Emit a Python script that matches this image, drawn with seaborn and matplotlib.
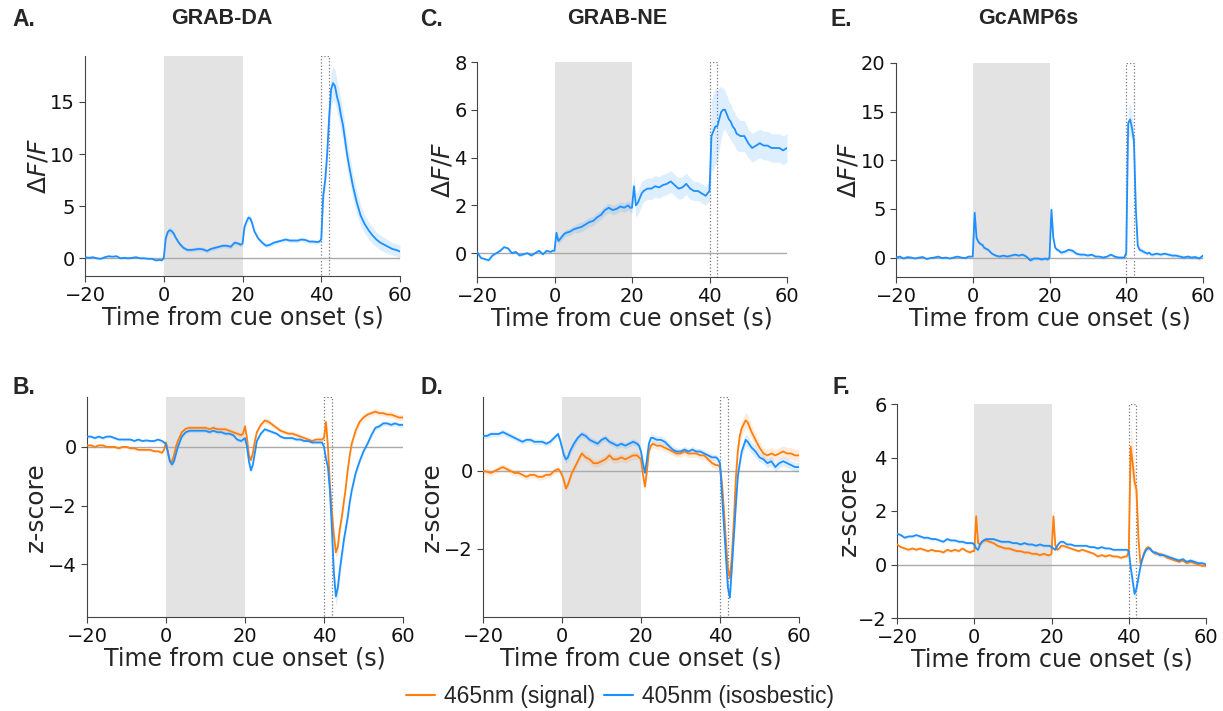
import numpy as np
import matplotlib.pyplot as plt
import seaborn as sns
from matplotlib.lines import Line2D

# time axis (s from cue onset), finer around the events
time_s = [-20, -19, -18, -17, -16, -15, -14, -13, -12, -11,
          -10, -9, -8, -7, -6, -5, -4, -3, -2, -1,
          -0.5, 0, 0.5, 1, 1.5, 2, 2.5, 3,
          4, 5, 6, 7, 8, 9, 10, 11, 12, 13,
          14, 15, 16, 17, 18, 19, 19.5, 20, 20.5, 21,
          21.5, 22, 22.5, 23, 24, 25, 26, 27, 28, 29,
          30, 31, 32, 33, 34, 35, 36, 37, 38, 39,
          39.5, 40, 40.5, 41, 41.5, 42, 42.5, 43, 43.5, 44,
          44.5, 45, 45.5, 46, 46.5, 47, 48, 49, 50,
          51, 52, 53, 54, 55, 56, 57, 58, 59, 60]

# ---- dF/F (405nm isosbestic-corrected), top row ----
da_dff = [0.1, 0.05, 0.1, 0.0, -0.05, 0.1, 0.2, 0.15, 0.2, 0.0,
          0.05, 0.0, 0.05, 0.1, 0.0, 0.0, -0.05, -0.05, -0.2, -0.15,
          -0.2, 0.0, 1.9, 2.5, 2.7, 2.6, 2.4, 2.0,
          1.4, 1.0, 0.8, 0.8, 0.85, 0.9, 0.85, 0.7, 0.9, 1.0,
          1.1, 1.2, 1.2, 1.1, 1.5, 1.4, 1.3, 1.4, 3.0, 3.5,
          3.9, 3.8, 3.3, 2.6, 1.9, 1.5, 1.2, 1.3, 1.5, 1.6,
          1.7, 1.8, 1.7, 1.7, 1.7, 1.8, 1.75, 1.6, 1.6, 1.55,
          1.6, 1.8, 6.0, 7.5, 10.0, 13.5, 16.2, 16.8, 16.5, 15.5,
          14.8, 13.7, 12.8, 11.5, 10.1, 9.0, 7.0, 5.4, 4.1,
          3.3, 2.7, 2.2, 1.8, 1.5, 1.3, 1.1, 0.9, 0.8, 0.65]
da_dff_sem = [0.1] * 20 + [0.1, 0.1, 0.2, 0.3, 0.3, 0.3, 0.25, 0.2] + [0.2] * 10 + \
    [0.2, 0.2, 0.2, 0.2, 0.2, 0.2, 0.2, 0.2, 0.3, 0.35] + \
    [0.35, 0.3, 0.3, 0.25, 0.2, 0.2, 0.2, 0.2, 0.2, 0.2] + [0.2] * 10 + \
    [0.2, 0.3, 0.8, 1.0, 1.2, 1.4, 1.6, 1.6, 1.6, 1.5] + \
    [1.5, 1.5, 1.4, 1.4, 1.3, 1.3, 1.2, 1.1, 1.0] + \
    [0.9, 0.8, 0.8, 0.7, 0.7, 0.7, 0.65, 0.6, 0.6, 0.6]

ne_dff = [0.05, -0.2, -0.25, -0.3, -0.1, 0.0, 0.1, 0.25, 0.2, 0.0,
          0.05, -0.1, -0.05, 0.0, -0.1, 0.0, 0.1, -0.05, 0.1, 0.05,
          0.1, 0.1, 0.85, 0.5, 0.6, 0.7, 0.8, 0.85,
          0.9, 1.0, 1.05, 1.1, 1.2, 1.3, 1.35, 1.5, 1.6, 1.8,
          1.9, 1.8, 1.85, 1.95, 1.9, 2.0, 1.9, 1.9, 2.8, 2.0,
          2.1, 2.3, 2.5, 2.6, 2.7, 2.7, 2.8, 2.75, 2.85, 2.9,
          3.0, 2.85, 2.7, 2.75, 2.9, 2.7, 2.6, 2.6, 2.5, 2.4,
          2.5, 2.6, 4.9, 5.1, 5.3, 5.3, 5.6, 5.9, 6.0, 6.0,
          5.8, 5.6, 5.5, 5.3, 5.2, 5.0, 4.9, 4.9, 4.6,
          4.4, 4.5, 4.6, 4.5, 4.5, 4.4, 4.4, 4.4, 4.3, 4.4]
ne_dff_sem = [0.05] * 20 + [0.05, 0.1, 0.15, 0.15, 0.15, 0.15, 0.15, 0.15] + \
    [0.15, 0.15, 0.2, 0.2, 0.2, 0.2, 0.2, 0.2, 0.2, 0.2] + \
    [0.2, 0.2, 0.2, 0.2, 0.2, 0.2, 0.2, 0.25, 0.4, 0.5] + \
    [0.5, 0.5, 0.5, 0.45, 0.45, 0.45, 0.45, 0.45, 0.45, 0.45] + \
    [0.45, 0.45, 0.45, 0.45, 0.45, 0.45, 0.4, 0.4, 0.4, 0.4] + \
    [0.4, 0.4, 1.5, 1.6, 1.6, 1.5, 1.3, 1.1, 0.9, 0.8] + \
    [0.8, 0.75, 0.75, 0.7, 0.7, 0.7, 0.65, 0.65, 0.6] + [0.6] * 10

gc_dff = [0.0, 0.1, -0.1, 0.05, 0.0, -0.1, 0.0, 0.05, -0.15, -0.05,
          0.0, 0.1, -0.05, 0.0, -0.1, 0.0, 0.1, 0.0, -0.05, 0.1,
          0.1, 0.1, 4.6, 2.0, 1.6, 1.4, 1.3, 1.0,
          0.8, 0.4, 0.2, 0.1, 0.2, 0.1, 0.2, 0.3, 0.2, 0.3,
          0.1, -0.3, -0.1, -0.1, -0.2, -0.1, -0.2, 0.0, 4.9, 2.0,
          1.0, 0.8, 0.7, 0.5, 0.6, 0.8, 0.7, 0.4, 0.3, 0.3,
          0.2, 0.3, 0.1, 0.1, 0.0, 0.1, 0.3, 0.1, 0.0, 0.0,
          0.0, 0.5, 13.8, 14.2, 13.3, 12.0, 5.0, 1.2, 0.8, 0.7,
          0.6, 0.5, 0.4, 0.5, 0.3, 0.3, 0.4, 0.3, 0.4,
          0.3, 0.2, 0.2, 0.1, 0.0, 0.1, 0.0, 0.05, -0.1, 0.2]
gc_dff_sem = [0.1] * 20 + [0.1, 0.1, 0.6, 0.3, 0.2, 0.2, 0.2, 0.2] + [0.15] * 10 + \
    [0.15, 0.15, 0.15, 0.15, 0.15, 0.15, 0.15, 0.15, 1.0, 0.3] + [0.2] * 10 + [0.15] * 10 + \
    [0.15, 0.3, 1.5, 1.6, 1.4, 1.2, 0.6, 0.3, 0.3, 0.25] + \
    [0.25, 0.2, 0.2, 0.2, 0.2, 0.2, 0.2, 0.2, 0.2] + [0.2] * 10

# ---- z-scores, bottom row: 465nm (signal) and 405nm (isosbestic) ----
da_z_465 = [0.05, 0.05, 0.0, 0.05, 0.05, 0.0, 0.0, 0.0, -0.05, 0.0,
            0.0, -0.05, -0.05, -0.1, -0.1, -0.1, -0.1, -0.15, -0.15, -0.2,
            -0.1, 0.15, -0.2, -0.5, -0.5, -0.3, 0.0, 0.2,
            0.5, 0.62, 0.65, 0.65, 0.65, 0.65, 0.65, 0.6, 0.65, 0.6,
            0.6, 0.6, 0.55, 0.5, 0.45, 0.4, 0.45, 0.7, 0.3, -0.3,
            -0.45, -0.2, 0.2, 0.5, 0.75, 0.9, 0.85, 0.75, 0.65, 0.55,
            0.5, 0.45, 0.45, 0.4, 0.35, 0.3, 0.25, 0.2, 0.25, 0.25,
            0.25, 0.3, 0.85, 0.0, -1.3, -2.2, -3.0, -3.6, -3.4, -2.8,
            -2.4, -1.9, -1.4, -0.8, -0.3, 0.1, 0.55, 0.85, 1.0,
            1.1, 1.15, 1.2, 1.15, 1.15, 1.1, 1.1, 1.05, 1.0, 1.0]
da_z_465_sem = [0.05] * 20 + [0.05, 0.05, 0.08, 0.1, 0.1, 0.08, 0.08, 0.08] + [0.08] * 10 + \
    [0.08] * 8 + [0.1, 0.1] + [0.1, 0.1, 0.08, 0.08, 0.08, 0.1, 0.1, 0.08, 0.08, 0.08] + [0.08] * 10 + \
    [0.08, 0.08, 0.15, 0.2, 0.2, 0.2, 0.2, 0.2, 0.2, 0.2] + \
    [0.2, 0.2, 0.15, 0.15, 0.15, 0.15, 0.15, 0.12, 0.12] + [0.1] * 10

da_z_405 = [0.35, 0.35, 0.3, 0.35, 0.3, 0.35, 0.35, 0.3, 0.25, 0.25,
            0.25, 0.25, 0.2, 0.25, 0.2, 0.22, 0.2, 0.2, 0.25, 0.2,
            0.15, 0.1, -0.2, -0.5, -0.6, -0.5, -0.25, 0.0,
            0.35, 0.5, 0.55, 0.55, 0.55, 0.55, 0.55, 0.5, 0.55, 0.5,
            0.5, 0.45, 0.45, 0.4, 0.25, 0.2, 0.25, 0.3, 0.0, -0.5,
            -0.8, -0.6, -0.2, 0.2, 0.45, 0.6, 0.55, 0.5, 0.45, 0.35,
            0.3, 0.3, 0.3, 0.25, 0.25, 0.2, 0.2, 0.15, 0.15, 0.15,
            0.15, 0.0, -0.4, -0.7, -1.5, -2.8, -4.3, -5.1, -4.8, -4.2,
            -3.7, -3.2, -2.8, -2.4, -1.9, -1.5, -0.9, -0.5, -0.15,
            0.1, 0.4, 0.65, 0.7, 0.8, 0.8, 0.75, 0.8, 0.75, 0.75]
da_z_405_sem = [0.05] * 20 + [0.05, 0.05, 0.08, 0.1, 0.1, 0.08, 0.08, 0.08] + [0.06] * 10 + \
    [0.06] * 8 + [0.1, 0.1] + [0.1, 0.1, 0.08] + [0.06] * 7 + [0.06] * 10 + \
    [0.06, 0.06, 0.1, 0.15, 0.2, 0.25, 0.3, 0.3, 0.3, 0.3] + \
    [0.25, 0.25, 0.2, 0.2, 0.2, 0.15, 0.15, 0.1, 0.1] + [0.08] * 10

ne_z_465 = [0.0, -0.02, -0.05, 0.0, 0.05, 0.1, 0.05, 0.0, -0.05, -0.05,
            -0.1, -0.15, -0.1, -0.1, -0.15, -0.15, -0.1, -0.1, 0.0, 0.05,
            0.0, -0.1, -0.25, -0.45, -0.35, -0.2, -0.05, 0.05,
            0.25, 0.45, 0.35, 0.3, 0.2, 0.2, 0.25, 0.3, 0.4, 0.3,
            0.3, 0.35, 0.3, 0.35, 0.4, 0.4, 0.35, 0.3, -0.1, -0.4,
            0.0, 0.5, 0.65, 0.7, 0.65, 0.65, 0.6, 0.55, 0.5, 0.45,
            0.45, 0.5, 0.45, 0.45, 0.45, 0.4, 0.4, 0.3, 0.2, 0.15,
            0.15, 0.1, -0.3, -1.0, -1.8, -2.5, -2.75, -2.2, -1.3, -0.2,
            0.5, 0.9, 1.1, 1.2, 1.3, 1.25, 1.0, 0.8, 0.6,
            0.45, 0.4, 0.45, 0.4, 0.45, 0.5, 0.45, 0.45, 0.4, 0.4]
ne_z_465_sem = [0.08] * 20 + [0.08, 0.08, 0.1, 0.1, 0.1, 0.1, 0.1, 0.1] + [0.1] * 10 + \
    [0.1] * 8 + [0.12, 0.15] + [0.12] + [0.1] * 9 + [0.1] * 10 + \
    [0.1, 0.1, 0.1, 0.12, 0.15, 0.15, 0.15, 0.15, 0.15, 0.15] + \
    [0.15, 0.18, 0.2, 0.2, 0.2, 0.2, 0.18, 0.18, 0.15] + [0.15] * 10

ne_z_405 = [0.9, 0.9, 0.95, 0.95, 0.95, 1.0, 0.95, 0.9, 0.85, 0.8,
            0.75, 0.8, 0.8, 0.75, 0.75, 0.75, 0.7, 0.75, 0.85, 0.95,
            0.8, 0.6, 0.4, 0.3, 0.35, 0.5, 0.6, 0.7,
            0.85, 0.95, 0.9, 0.8, 0.75, 0.7, 0.8, 0.85, 0.75, 0.7,
            0.65, 0.7, 0.65, 0.7, 0.75, 0.7, 0.65, 0.5, 0.2, -0.05,
            0.3, 0.7, 0.85, 0.85, 0.8, 0.8, 0.75, 0.65, 0.55, 0.5,
            0.5, 0.55, 0.5, 0.55, 0.5, 0.5, 0.45, 0.4, 0.35, 0.35,
            0.3, 0.2, -0.6, -1.4, -2.2, -3.0, -3.25, -2.5, -1.7, -0.9,
            -0.15, 0.2, 0.5, 0.65, 0.8, 0.75, 0.6, 0.5, 0.35,
            0.3, 0.2, 0.25, 0.1, 0.2, 0.25, 0.2, 0.15, 0.1, 0.1]
ne_z_405_sem = [0.07] * 20 + [0.07, 0.08, 0.1, 0.1, 0.1, 0.1, 0.1, 0.1] + [0.08] * 10 + \
    [0.08] * 8 + [0.1, 0.12] + [0.1] * 10 + [0.08] * 10 + \
    [0.08, 0.08, 0.1, 0.12, 0.15, 0.15, 0.15, 0.15, 0.15, 0.15] + \
    [0.15, 0.15, 0.15, 0.15, 0.15, 0.15, 0.15, 0.15, 0.12] + [0.12] * 10

gc_z_465 = [0.75, 0.65, 0.6, 0.55, 0.6, 0.55, 0.6, 0.55, 0.5, 0.55,
            0.5, 0.5, 0.45, 0.55, 0.5, 0.55, 0.5, 0.6, 0.5, 0.45,
            0.5, 0.5, 1.8, 0.8, 0.75, 0.85, 0.9, 0.9,
            0.85, 0.8, 0.7, 0.65, 0.6, 0.6, 0.55, 0.5, 0.5, 0.45,
            0.45, 0.4, 0.4, 0.35, 0.4, 0.35, 0.35, 0.4, 1.8, 0.7,
            0.55, 0.6, 0.7, 0.7, 0.65, 0.6, 0.55, 0.5, 0.55, 0.5,
            0.45, 0.4, 0.3, 0.35, 0.3, 0.35, 0.3, 0.3, 0.25, 0.3,
            0.3, 0.5, 4.4, 3.8, 3.1, 2.8, 1.0, 0.05, 0.2, 0.45,
            0.6, 0.65, 0.6, 0.5, 0.45, 0.4, 0.4, 0.35, 0.25,
            0.2, 0.15, 0.1, 0.15, 0.05, 0.1, 0.05, 0.0, -0.05, -0.05]
gc_z_465_sem = [0.06] * 20 + [0.06, 0.06, 0.3, 0.1, 0.08, 0.08, 0.08, 0.08] + [0.06] * 10 + \
    [0.06] * 8 + [0.3, 0.1] + [0.08] + [0.06] * 9 + [0.06] * 10 + \
    [0.06, 0.1, 1.0, 0.8, 0.6, 0.5, 0.3, 0.1, 0.08, 0.08] + [0.08] * 9 + [0.06] * 10

gc_z_405 = [1.15, 1.1, 1.0, 1.05, 1.05, 1.1, 1.05, 1.0, 1.0, 0.95,
            0.95, 0.9, 0.85, 0.95, 0.9, 0.9, 0.85, 0.85, 0.8, 0.8,
            0.8, 0.75, 0.6, 0.55, 0.75, 0.85, 0.9, 0.95,
            0.95, 0.95, 0.9, 0.85, 0.85, 0.85, 0.8, 0.8, 0.75, 0.8,
            0.75, 0.75, 0.7, 0.75, 0.7, 0.7, 0.7, 0.65, 0.6, 0.55,
            0.7, 0.8, 0.85, 0.85, 0.75, 0.75, 0.7, 0.7, 0.7, 0.7,
            0.65, 0.65, 0.6, 0.65, 0.6, 0.6, 0.55, 0.55, 0.55, 0.55,
            0.55, 0.5, -0.1, -0.6, -1.1, -0.9, -0.5, -0.1, 0.2, 0.4,
            0.55, 0.6, 0.6, 0.5, 0.45, 0.45, 0.35, 0.35, 0.3,
            0.25, 0.2, 0.15, 0.2, 0.1, 0.15, 0.1, 0.05, 0.05, 0.0]
gc_z_405_sem = [0.06] * 28 + [0.05] * 40 + \
    [0.05, 0.06, 0.1, 0.15, 0.2, 0.2, 0.15, 0.1, 0.08, 0.08] + [0.08] * 9 + [0.08] * 10

col_465 = '#ff7f0e'
col_405 = '#1e8fff'

sns.set_style('ticks')
plt.rcParams['font.family'] = ['DejaVu Sans']
plt.rcParams['axes.edgecolor'] = '#444444'
plt.rcParams['xtick.color'] = '#444444'
plt.rcParams['ytick.color'] = '#444444'
plt.rcParams['xtick.labelcolor'] = '#111111'
plt.rcParams['ytick.labelcolor'] = '#111111'

fig = plt.figure(figsize=(12.23, 7.11), dpi=100)
W, H = 1223, 711


def add_axes_px(left, top, right, bottom):
    return fig.add_axes([left / W, 1 - bottom / H, (right - left) / W, (bottom - top) / H])


def draw_panel(ax, traces, ylim, yticks, ylabel, label_x):
    ax.axvspan(0, 20, color='#e3e3e3', lw=0, zorder=0)
    ax.axvspan(40, 42, fill=False, ec='#777777', ls=':', lw=0.9, zorder=1)
    ax.axhline(0, color='#aaaaaa', lw=1, zorder=1)
    for vals, sem, color in traces:
        v = np.array(vals)
        s = np.array(sem)
        ax.fill_between(time_s, v - s, v + s, color=color, alpha=0.15, lw=0, zorder=2)
        sns.lineplot(x=time_s, y=vals, color=color, lw=1.3, ax=ax, zorder=3)
    ax.set_xlim(-20, 60)
    ax.set_ylim(*ylim)
    ax.set_xticks([-20, 0, 20, 40, 60])
    ax.set_yticks(yticks)
    ax.tick_params(labelsize=14, length=4, width=0.8)
    ax.set_xlabel('Time from cue onset (s)', fontsize=17, labelpad=0)
    ax.set_ylabel(ylabel, fontsize=18)
    # place the y label where it sits in the original (right edge, in pixels)
    pos = ax.get_position()
    ax.yaxis.set_label_coords(label_x / W, pos.y0 + pos.height / 2, transform=fig.transFigure)
    sns.despine(ax=ax)


dff_label = r'$\Delta F/F$'
ax_a = add_axes_px(85, 56, 400, 276)
draw_panel(ax_a, [(da_dff, da_dff_sem, col_405)], (-1.7, 19.4), [0, 5, 10, 15], dff_label, 50)
ax_c = add_axes_px(477, 62, 787, 277)
draw_panel(ax_c, [(ne_dff, ne_dff_sem, col_405)], (-1.0, 8.0), [0, 2, 4, 6, 8], dff_label, 454)
ax_e = add_axes_px(896, 63, 1203, 277)
draw_panel(ax_e, [(gc_dff, gc_dff_sem, col_405)], (-2.0, 20.0), [0, 5, 10, 15, 20], dff_label, 861)

ax_b = add_axes_px(87, 397, 403, 617)
draw_panel(ax_b, [(da_z_465, da_z_465_sem, col_465), (da_z_405, da_z_405_sem, col_405)],
           (-5.8, 1.7), [-4, -2, 0], 'z-score', 48)
ax_d = add_axes_px(483, 397, 799, 617)
draw_panel(ax_d, [(ne_z_465, ne_z_465_sem, col_465), (ne_z_405, ne_z_405_sem, col_405)],
           (-3.75, 1.9), [-2, 0], 'z-score', 444)
ax_f = add_axes_px(897, 404, 1206, 618)
draw_panel(ax_f, [(gc_z_465, gc_z_465_sem, col_465), (gc_z_405, gc_z_405_sem, col_405)],
           (-2.0, 6.0), [-2, 0, 2, 4, 6], 'z-score', 861)

# panel letters and sensor titles
for letter, x, y in [('A.', 12, 19), ('C.', 420, 19), ('E.', 830, 19),
                     ('B.', 12, 387), ('D.', 421, 387), ('F.', 833, 388)]:
    fig.text(x / W, 1 - y / H, letter, ha='left', va='center', fontsize=16.5,
             fontweight='bold', family='Liberation Sans')
for title, x in [('GRAB-DA', 222), ('GRAB-NE', 617), ('GcAMP6s', 1028)]:
    fig.text(x / W, 1 - 19 / H, title, ha='center', va='center', fontsize=15.5,
             fontweight='bold', family='Liberation Sans')

handles = [Line2D([], [], color=col_465, lw=1.5), Line2D([], [], color=col_405, lw=1.5)]
fig.legend(handles, ['465nm (signal)', '405nm (isosbestic)'], loc='center',
           bbox_to_anchor=(620 / W, 1 - 697 / H), ncol=2, frameon=False,
           prop={'family': 'Liberation Sans', 'size': 16.5}, handlelength=1.25,
           columnspacing=0.4, handletextpad=0.4)

fig.savefig('out.png', dpi=100)
